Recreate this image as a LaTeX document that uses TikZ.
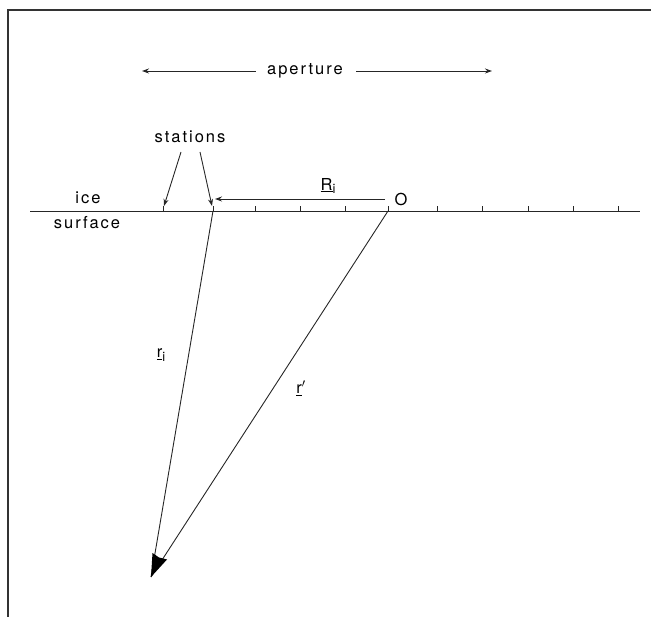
\documentclass[tikz,border=0pt]{standalone}
\usepackage{fontspec}
\setmainfont{TeX Gyre Heros}[LetterSpace=12]
\usetikzlibrary{arrows.meta}
\begin{document}
\begin{tikzpicture}[x=1pt,y=-1pt,
  lbl/.style={font=\fontsize{16.5}{18}\selectfont, inner sep=1pt},
  thin line/.style={line width=0.9pt, black!85},
  small tip/.style={-{Stealth[length=7pt,width=5pt]}}]
\useasboundingbox (0,0) rectangle (651,617);
% frame
\draw[line width=1.4pt, black!80] (8,617) -- (8,10) -- (651,10);
% aperture
\node[lbl] (ap) at (305,71) {aperture};
\coordinate (apL) at (142,71);
\coordinate (apR) at (492,71);
\draw[thin line, small tip] (ap.west) ++(-10,0) -- (apL);
\draw[thin line, small tip] (ap.east) ++(12,0) -- (apR);
% ice surface
\coordinate (s0) at (30,211);
\coordinate (s1) at (640,211);
\draw[thin line] (s0) -- (s1);
\foreach \x in {163,213,255,300,345,388,437,482,528,573,618}
  \draw[thin line] (\x,211) -- (\x,206);
\node[lbl] (ice) at (88,198) {ice};
\node[lbl] (surf) at (87,223) {surface};
% stations
\coordinate (st1) at (163,211);
\coordinate (st2) at (213,211);
\coordinate (O) at (388,211);
\node[lbl] (stn) at (190,137) {stations};
\draw[thin line, small tip] (181,152) -- (164,206);
\draw[thin line, small tip] (200,152) -- (212,206);
% R_i
\coordinate (Rs) at (385,199);
\coordinate (Re) at (215,199);
\draw[thin line, small tip] (Rs) -- (Re);
\node[lbl] (Ri) at (328,186) {\underline{R}\raisebox{-0.45ex}{\fontsize{13}{14}\selectfont i}};
\node[lbl] (Olbl) at (401,199) {O};
% rays
\coordinate (P) at (151,577);
\draw[thin line] (st2) -- (P);
\draw[thin line] (O) -- (P);
\fill[black] (P) -- (152.5,553) -- (159,557.5) -- (167,559.5) -- cycle;
\node[lbl] (ri) at (161,355) {\underline{r}\raisebox{-0.45ex}{\fontsize{13}{14}\selectfont i}};
\node[lbl] (rp) at (301,388) {\underline{r}$'$};
\end{tikzpicture}
\end{document}
